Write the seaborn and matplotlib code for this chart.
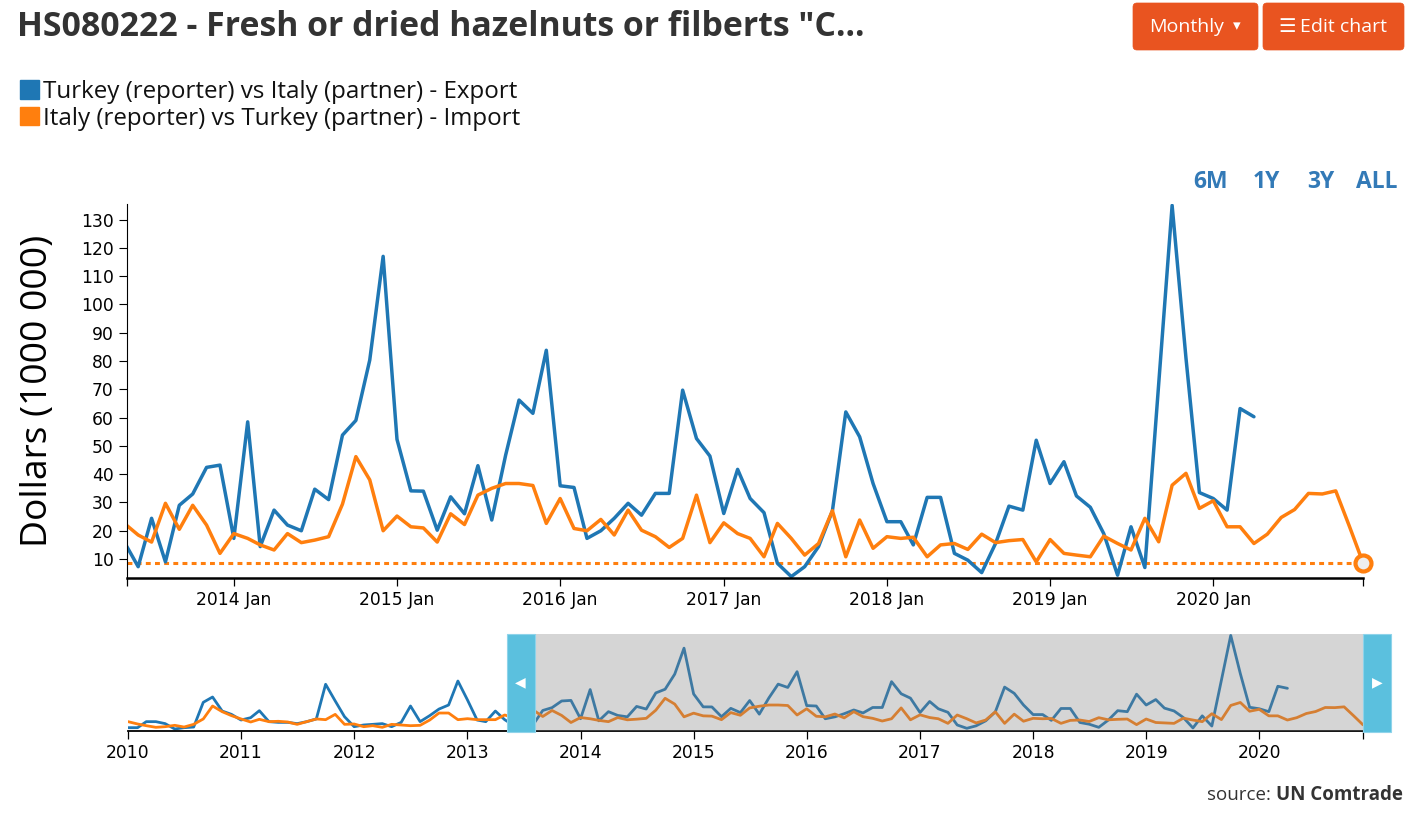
import matplotlib
matplotlib.use("Agg")
import matplotlib.pyplot as plt
import matplotlib.dates as mdates
from matplotlib.patches import Rectangle, FancyBboxPatch, Patch
import pandas as pd
import seaborn as sns

# ---------------- data (millions of US$) ----------------
first_month = "2010-01-01"
series_names = ["Turkey (reporter) vs Italy (partner) - Export",
                "Italy (reporter) vs Turkey (partner) - Import"]
# Turkey -> Italy export, Jan 2010 .. Apr 2020
export_values = [
    4.7, 4.7, 13.2, 13.2, 10.4, 2.8, 4.7, 5.6, 40.5, 48.0, 28.2, 23.5,
    15.5, 18.8, 28.7, 13.2, 12.2, 12.2, 10.4, 13.2, 17.0, 66.0, 42.4, 20.2,
    6.1, 8.5, 9.4, 10.4, 6.1, 12.2, 35.3, 13.2, 21.7, 31.0, 36.7, 70.6,
    43.8, 15.5, 13.2, 28.2, 16.0, 7.3, 24.4, 9.0, 29.0, 33.0, 42.4, 43.2,
    17.3, 58.5, 14.4, 27.3, 22.0, 20.0, 34.7, 31.0, 53.8, 59.0, 80.3, 117.0,
    52.3, 34.1, 34.0, 20.2, 32.0, 26.0, 43.0, 23.8, 46.7, 66.2, 61.5, 83.8,
    35.9, 35.3, 17.3, 20.0, 24.4, 29.7, 25.5, 33.2, 33.2, 69.7, 52.6, 46.4,
    26.1, 41.7, 31.4, 26.4, 8.5, 3.8, 7.3, 14.4, 27.0, 62.0, 53.2, 36.7,
    23.2, 23.2, 15.0, 31.8, 31.8, 12.0, 9.6, 5.2, 15.5, 28.7, 27.3, 52.0,
    36.7, 44.4, 32.3, 28.3, 19.0, 4.3, 21.4, 7.0, 72.0, 135.0, 81.0, 33.5,
    31.4, 27.3, 63.2, 60.3,
]
# Italy <- Turkey import, Jan 2010 .. Dec 2020
import_values = [
    13.2, 9.9, 7.5, 5.2, 6.1, 8.0, 5.6, 9.4, 17.0, 35.3, 27.3, 21.7,
    17.0, 12.7, 16.5, 13.2, 13.7, 12.7, 9.4, 13.2, 17.0, 16.0, 23.5, 9.4,
    9.9, 6.1, 7.5, 5.2, 9.4, 8.5, 7.5, 8.0, 15.5, 25.4, 25.4, 16.0,
    17.4, 16.0, 16.0, 16.0, 22.6, 18.5, 16.0, 29.7, 20.5, 29.0, 22.0, 12.0,
    19.0, 17.3, 15.0, 13.2, 19.0, 15.8, 16.7, 17.9, 29.4, 46.2, 38.0, 20.0,
    25.2, 21.4, 21.0, 16.0, 26.0, 22.2, 32.6, 35.0, 36.7, 36.7, 36.0, 22.6,
    31.4, 20.8, 20.0, 24.0, 18.5, 27.3, 20.2, 17.9, 14.1, 17.3, 32.6, 15.8,
    22.8, 19.0, 17.3, 10.8, 22.6, 17.3, 11.4, 15.5, 27.1, 10.8, 23.8, 13.8,
    17.9, 17.3, 17.7, 10.8, 15.0, 15.5, 13.4, 18.8, 15.8, 16.5, 16.9, 9.0,
    16.9, 12.0, 11.4, 10.8, 18.1, 15.5, 13.2, 24.4, 16.1, 36.1, 40.3, 27.9,
    30.6, 21.4, 21.4, 15.5, 18.8, 24.7, 27.5, 33.2, 33.0, 34.1, 21.4, 8.7,
]
main_yticks = list(range(10, 140, 10))
main_label_years = list(range(2014, 2021))
nav_label_years = list(range(2010, 2021))
view_start = "2013-05-07"
view_end = "2020-12-01"
nav_start = "2010-01-01"

colors = ["#1f77b4", "#ff7f0e"]

exp_df = pd.DataFrame({"date": pd.date_range(first_month, periods=len(export_values), freq="MS"),
                       "value": export_values, "series": series_names[0]})
imp_df = pd.DataFrame({"date": pd.date_range(first_month, periods=len(import_values), freq="MS"),
                       "value": import_values, "series": series_names[1]})
df = pd.concat([exp_df, imp_df], ignore_index=True)

# ---------------- style ----------------
sns.set_theme(style="white")
plt.rcParams["font.family"] = ["DejaVu Sans"]
UI_FONT = ["Open Sans", "DejaVu Sans"]

W, H = 1411, 813
fig = plt.figure(figsize=(W / 100, H / 100), dpi=100)

# ---------------- main chart ----------------
ax = fig.add_axes([127 / W, 1 - 578 / H, 1236 / W, 374 / H])
sns.lineplot(data=df, x="date", y="value", hue="series", hue_order=series_names,
             palette=colors, linewidth=2.5, estimator=None, legend=False, ax=ax)
vs, ve = pd.Timestamp(view_start), pd.Timestamp(view_end)
ax.set_xlim(vs, ve)
ax.set_ylim(3.3, 135.5)

last_val = import_values[-1]
last_date = imp_df["date"].iloc[-1]
ax.axhline(last_val, color=colors[1], lw=2.2, ls=(0, (1.6, 1.4)), zorder=1)
ax.plot([last_date], [last_val], marker="o", ms=11.5, mfc="#eeeeee", mec=colors[1],
        mew=3, clip_on=False, zorder=5)

ax.set_yticks(main_yticks)
xt = [vs] + [pd.Timestamp(f"{y}-01-01") for y in main_label_years] + [ve]
ax.set_xticks(xt)
ax.set_xticklabels([""] + [f"{y} Jan" for y in main_label_years] + [""])
ax.tick_params(axis="y", length=6, width=0.8, labelsize=12.3, pad=3.5, colors="black", left=True)
ax.tick_params(axis="x", length=6, width=0.9, labelsize=12.3, pad=3, colors="black", bottom=True)
for s in ["top", "right"]:
    ax.spines[s].set_visible(False)
ax.spines["left"].set_color("black")
ax.spines["left"].set_linewidth(0.8)
ax.spines["bottom"].set_color("black")
ax.spines["bottom"].set_linewidth(1.8)
ax.set_xlabel("")
ax.set_ylabel("Dollars (1000 000)", fontsize=26.8, family=UI_FONT, color="black", va="center")
ax.yaxis.set_label_coords(-0.072, 0.5)

# ---------------- navigator ----------------
nav = fig.add_axes([128 / W, 1 - 731 / H, 1235 / W, 97 / H])
sns.lineplot(data=df, x="date", y="value", hue="series", hue_order=series_names,
             palette=colors, linewidth=2.0, estimator=None, legend=False, ax=nav)
ns = pd.Timestamp(nav_start)
nav.set_xlim(ns, ve)
nav.set_ylim(0, 137)
nav.set_yticks([])
nt = [pd.Timestamp(f"{y}-01-01") for y in nav_label_years] + [ve]
nav.set_xticks(nt)
nav.set_xticklabels([str(y) for y in nav_label_years] + [""])
nav.tick_params(axis="x", length=6, width=0.9, labelsize=12.3, pad=3, colors="black", bottom=True)
for s in ["top", "right", "left"]:
    nav.spines[s].set_visible(False)
nav.spines["bottom"].set_color("black")
nav.spines["bottom"].set_linewidth(1.3)
nav.set_xlabel("")
nav.set_ylabel("")

hw = pd.Timedelta(days=91)
tr = nav.get_xaxis_transform()
x0 = mdates.date2num(vs)
x1 = mdates.date2num(vs + hw)
x2 = mdates.date2num(ve)
x3 = mdates.date2num(ve + hw)
nav.add_patch(Rectangle((x1, 0), x2 - x1, 1, transform=tr, facecolor="#808080",
                        alpha=0.33, lw=0, zorder=5))
for a, b in [(x0, x1), (x2, x3)]:
    nav.add_patch(Rectangle((a, -0.01), b - a, 1.01, transform=tr, facecolor="#5bc0de",
                            edgecolor="#8fd3ea", lw=0.8, zorder=6, clip_on=False))
nav.text((x0 + x1) / 2, 0.5, "◀", transform=tr, color="white", fontsize=10,
         ha="center", va="center", zorder=7, clip_on=False)
nav.text((x2 + x3) / 2, 0.5, "▶", transform=tr, color="white", fontsize=10,
         ha="center", va="center", zorder=7, clip_on=False)

# ---------------- overlay for page decorations (pixel coords) ----------------
ov = fig.add_axes([0, 0, 1, 1], zorder=10)
ov.set_xlim(0, W)
ov.set_ylim(H, 0)
ov.axis("off")

ov.text(17, 27, 'HS080222 - Fresh or dried hazelnuts or filberts "C...', fontsize=24.4,
        fontweight="bold", family=UI_FONT, color="#333333", ha="left", va="center")

# legend
legend = fig.legend(handles=[Patch(facecolor=c, edgecolor=c) for c in colors], labels=series_names,
                    loc="upper left", bbox_to_anchor=(10 / W, 1 - 70 / H), frameon=False,
                    handlelength=0.8, handleheight=0.8, handletextpad=0.18, labelspacing=0.12,
                    borderaxespad=0, prop={"family": UI_FONT, "size": 17.4})
for t in legend.get_texts():
    t.set_color("#111111")

# buttons
for bx, bw in [(1133, 125), (1263, 141)]:
    ov.add_patch(FancyBboxPatch((bx, 3), bw, 47, boxstyle="round,pad=0,rounding_size=4",
                                facecolor="#e95420", edgecolor="#e95420", lw=0.5))
ov.text(1187, 27, "Monthly", fontsize=14, family=UI_FONT, color="white", ha="center", va="center")
ov.text(1237, 26, "▾", fontsize=11, family=["DejaVu Sans"], color="white", ha="center", va="center")
ov.text(1287, 26, "☰", fontsize=14, family=["DejaVu Sans"], color="white", ha="center", va="center")
ov.text(1300, 27, "Edit chart", fontsize=14, family=UI_FONT, color="white", ha="left", va="center")

# range selector
for lbl, cx in [("6M", 1210), ("1Y", 1266), ("3Y", 1321), ("ALL", 1377)]:
    ov.text(cx, 182, lbl, fontsize=16.5, fontweight="bold", family=UI_FONT, color="#337ab7",
            ha="center", va="center")

# source
t_bold = ov.text(1403, 795, "UN Comtrade", fontsize=13.5, fontweight="bold", family=UI_FONT,
                 color="#333333", ha="right", va="center")
fig.canvas.draw()
bb = t_bold.get_window_extent()
xl = ov.transData.inverted().transform((bb.x0, bb.y0))[0]
ov.text(xl - 5, 795, "source:", fontsize=13.5, family=UI_FONT, color="#333333", ha="right", va="center")

fig.savefig("out.png", dpi=100)
